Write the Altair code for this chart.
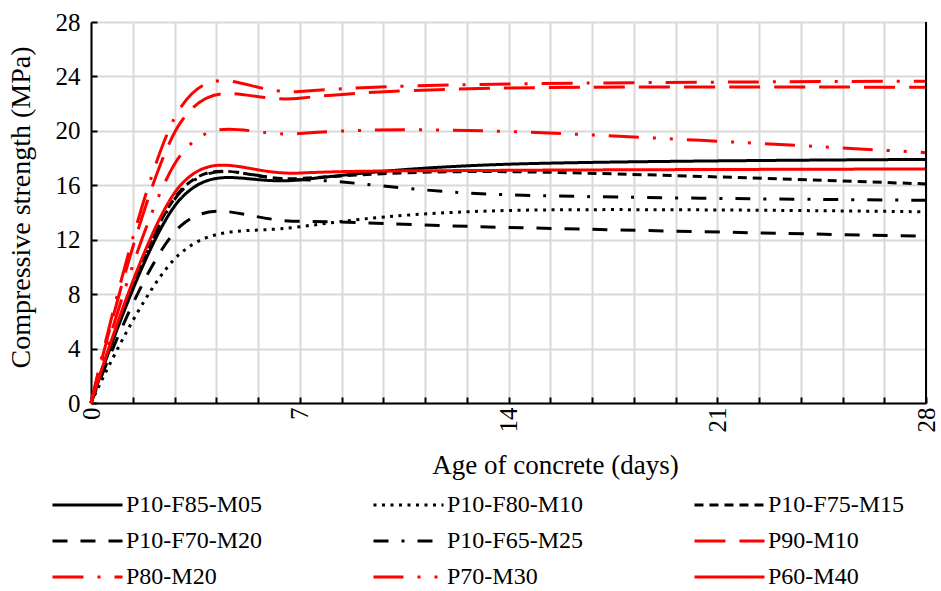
import altair as alt
import pandas as pd

# ---- data ----
DAYS = [0, 3, 7, 14, 28]
SERIES = ["P10-F85-M05", "P10-F80-M10", "P10-F75-M15",
          "P10-F70-M20", "P10-F65-M25", "P90-M10",
          "P80-M20", "P70-M30", "P60-M40"]
P10_F85_M05 = [0, 15.0, 16.4, 17.55, 17.9]
P10_F80_M10 = [0, 11.0, 12.95, 14.15, 14.05]
P10_F75_M15 = [0, 15.6, 16.5, 17.0, 16.1]
P10_F70_M20 = [0, 13.0, 13.35, 12.9, 12.25]
P10_F65_M25 = [0, 15.5, 16.4, 15.3, 14.9]
P90_M10 = [0, 20.6, 22.4, 23.15, 23.2]
P80_M20 = [0, 21.7, 22.9, 23.45, 23.65]
P70_M30 = [0, 18.2, 19.8, 19.95, 18.4]
P60_M40 = [0, 16.0, 16.9, 17.1, 17.2]
VALUES = [P10_F85_M05, P10_F80_M10, P10_F75_M15, P10_F70_M20, P10_F65_M25,
          P90_M10, P80_M20, P70_M30, P60_M40]

COLORS = ["#000000"] * 5 + ["#FF0000"] * 4
DASHES = [[1, 0], [3, 5.5], [9, 6], [15, 13], [15, 13, 3, 13],
          [31, 14], [31, 14, 3, 14], [30, 14, 3, 14, 3, 14], [1, 0]]

X_TICKS = [0, 1.4, 2.8, 4.2, 5.6, 7, 8.4, 9.8, 11.2, 12.6, 14, 15.4, 16.8,
           18.2, 19.6, 21, 22.4, 23.8, 25.2, 26.6, 28]
Y_TICKS = [0, 2, 4, 6, 8, 10, 12, 14, 16, 18, 20, 22, 24, 26, 28]

rows = []
for name, vals in zip(SERIES, VALUES):
    for d, v in zip(DAYS, vals):
        rows.append({"series": name, "day": d, "strength": v})
df = pd.DataFrame(rows)

FONT = "Liberation Serif, Times New Roman, serif"

legend = alt.Legend(
    orient="none", legendX=-27.5, legendY=459, columns=3, direction="horizontal",
    symbolType="M-1.556,0H1.556", symbolSize=2025, symbolStrokeWidth=3,
    symbolFillColor="transparent",
    labelFont=FONT, labelFontSize=24, labelColor="black",
    labelOffset=14.5, labelLimit=0,
    columnPadding=104, rowPadding=0,
    padding=0, title=None,
)

x_axis = alt.Axis(
    values=X_TICKS, labelExpr="datum.value % 7 === 0 ? datum.label : ''",
    labelAngle=-90, labelFlush=False, labelOverlap=False,
    labelFont=FONT, labelFontSize=25, labelColor="black", labelPadding=10,
    tickSize=alt.ExprRef(expr="-6"), tickColor="black", tickWidth=2,
    domainColor="black", domainWidth=2,
    grid=True, gridColor="#d9d9d9", gridWidth=2,
    title="Age of concrete (days)", titleFont=FONT, titleFontSize=27,
    titleFontWeight="normal", titleColor="black",
    titleBaseline="alphabetic", titleY=70, titleX=464, titleAlign="center",
)
y_axis = alt.Axis(
    values=Y_TICKS, labelExpr="datum.value % 4 === 0 ? datum.label : ''",
    labelFlush=False, labelOverlap=False,
    labelFont=FONT, labelFontSize=25, labelColor="black", labelPadding=17,
    tickSize=alt.ExprRef(expr="-6"), tickColor="black", tickWidth=2,
    domainColor="black", domainWidth=2,
    grid=True, gridColor="#d9d9d9", gridWidth=2,
    title="Compressive strength (MPa)", titleFont=FONT, titleFontSize=28,
    titleFontWeight="normal", titleColor="black",
    titleBaseline="alphabetic", titleX=-62, titleY=185,
)

lines = alt.Chart(df).mark_line(
    interpolate="cardinal", tension=0, strokeWidth=3
).encode(
    x=alt.X("day:Q", scale=alt.Scale(domain=[0, 28], nice=False), axis=x_axis),
    y=alt.Y("strength:Q", scale=alt.Scale(domain=[0, 28], nice=False), axis=y_axis),
    color=alt.Color("series:N", scale=alt.Scale(domain=SERIES, range=COLORS),
                    legend=legend, title=None),
    strokeDash=alt.StrokeDash("series:N", scale=alt.Scale(domain=SERIES, range=DASHES),
                              legend=legend, title=None),
    detail="series:N",
)

border = alt.Chart(df).mark_rule(color="black", strokeWidth=2).encode(
    x=alt.datum(DAYS[-1]),
    y=alt.datum(Y_TICKS[0]),
    y2=alt.datum(Y_TICKS[-1]),
)

chart = alt.layer(lines, border).properties(
    width=835, height=381,
    autosize=alt.AutoSizeParams(type="none"),
    padding={"left": 91, "top": 22, "right": 15, "bottom": 188},
).configure_view(stroke=None).configure(background="white")

chart.save("out.html", embed_options={"renderer": "svg", "actions": False})
